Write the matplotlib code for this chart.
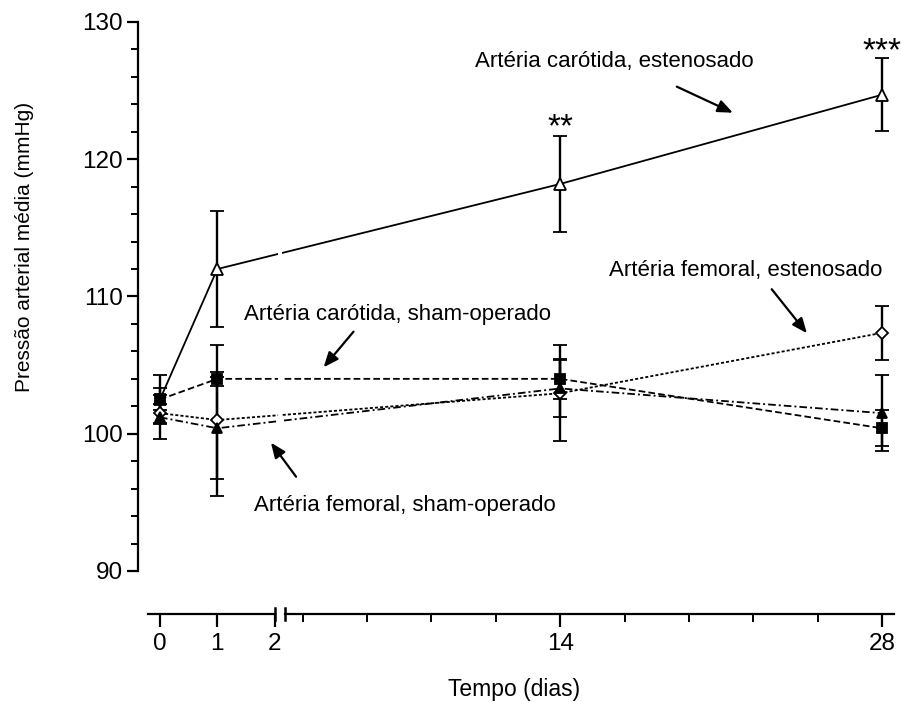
import matplotlib
matplotlib.use("Agg")
import matplotlib.pyplot as plt
import numpy as np
from matplotlib.ticker import FixedLocator, MultipleLocator

plt.rcParams['font.family'] = ['Liberation Sans', 'DejaVu Sans']
plt.rcParams['lines.scale_dashes'] = False

# tempo (dias)
dias = [0, 1, 14, 28]

# pressão arterial média (mmHg) +- erro
carotida_est = [102.5, 112.0, 118.2, 124.7]
carotida_est_ep = [1.8, 4.2, 3.5, 2.65]
carotida_sham = [102.5, 104.0, 104.0, 100.4]
carotida_sham_ep = [0.8, 0.5, 1.45, 1.3]
femoral_est = [101.5, 101.0, 102.95, 107.35]
femoral_est_ep = [0.7, 5.5, 3.5, 1.95]
femoral_sham = [101.2, 100.4, 103.3, 101.5]
femoral_sham_ep = [1.6, 3.7, 2.05, 2.75]

ticks_x = [0, 1, 2, 14, 28]
ticks_x_menores = [2.8, 5.6, 8.4, 11.2, 16.8, 19.6, 22.4, 25.2]
ticks_y = [90, 100, 110, 120, 130]

# eixo x com quebra depois do dia 2
A, B, GAP, W = 57.3, 23.0, 10.0, 0.01


def fwd(d):
    d = np.asarray(d, dtype=float)
    return np.where(d <= 2, A * d,
                    np.where(d <= 2 + W, 2 * A + (d - 2) * GAP / W,
                             2 * A + GAP + (d - 2 - W) * B))


def inv(u):
    u = np.asarray(u, dtype=float)
    return np.where(u <= 2 * A, u / A,
                    np.where(u <= 2 * A + GAP, 2 + (u - 2 * A) * W / GAP,
                             2 + W + (u - 2 * A - GAP) / B))


fig = plt.figure(figsize=(9.03, 7.02), dpi=100)
ax = fig.add_axes([138 / 903, 131 / 702, 756.5 / 903, 549 / 702])
ax.set_xscale('function', functions=(fwd, inv))

series = [
    (carotida_est, carotida_est_ep, '-', '^', 'white', 8),
    (carotida_sham, carotida_sham_ep, (0, (4.8, 2.3)), 's', 'black', 7),
    (femoral_est, femoral_est_ep, (0, (2.2, 1.5)), 'D', 'white', 6.5),
    (femoral_sham, femoral_sham_ep, (0, (5.5, 2.2, 1.4, 2.2)), '^', 'black', 7.5),
]
for y, e, ls, mk, fc, ms in series:
    ax.errorbar(dias, y, yerr=e, ls=ls, lw=1.3, color='black', marker=mk,
                ms=ms, mfc=fc, mec='black', mew=1.3, ecolor='black',
                elinewidth=1.7, capsize=4.7, capthick=1.7, zorder=3)

# interrupção das linhas na quebra do eixo
ax.axvspan(2.003, 2.007, color='white', lw=0, zorder=4)

# eixo x deslocado, desenhado em dois trechos
Y0 = -43 / 549
ax.spines[['top', 'right']].set_visible(False)
ax.spines['left'].set_linewidth(1.6)
ax.spines['bottom'].set_position(('axes', Y0))
ax.spines['bottom'].set_visible(False)
tr = ax.get_xaxis_transform()
ax.plot([-0.21, 2], [Y0, Y0], transform=tr, color='black', lw=1.6, clip_on=False)
ax.plot([2 + W, 28.54], [Y0, Y0], transform=tr, color='black', lw=1.6, clip_on=False)
for xb in (2, 2 + W):
    ax.plot([xb, xb], [Y0 - 0.011, Y0 + 0.011], transform=tr, color='black',
            lw=1.8, clip_on=False)

ax.xaxis.set_major_locator(FixedLocator(ticks_x))
ax.xaxis.set_minor_locator(FixedLocator(ticks_x_menores))
ax.set_xticks(ticks_x, labels=[str(t) for t in ticks_x])
ax.set_yticks(ticks_y, labels=[str(t) for t in ticks_y])
ax.yaxis.set_minor_locator(MultipleLocator(2))
ax.tick_params(axis='x', which='major', length=9, width=1.6, pad=5, labelsize=17.5)
ax.tick_params(axis='x', which='minor', length=6, width=1.4)
ax.tick_params(axis='y', which='major', length=8, width=1.6, pad=3, labelsize=17.5)
ax.tick_params(axis='y', which='minor', length=5, width=1.4)

ax.set_ylabel('Pressão arterial média (mmHg)', fontsize=15)
ax.yaxis.set_label_coords(-0.137, 0.59)
ax.set_xlabel('Tempo (dias)', fontsize=16.5)
ax.xaxis.set_label_coords(0.497, -0.215)
ax.xaxis.label.set_va('center')

seta = dict(arrowstyle='-|>,head_length=0.6,head_width=0.25', color='black',
            lw=1.6, mutation_scale=15, shrinkA=0, shrinkB=0)
rotulos = [
    ('Artéria carótida, estenosado', (16.36, 127.11), (19.07, 125.29), (21.51, 123.39)),
    ('Artéria femoral, estenosado', (22.07, 111.88), (23.20, 110.53), (24.73, 107.32)),
    ('Artéria carótida, sham-operado', (6.91, 108.72), (5.01, 107.44), (3.71, 104.84)),
    ('Artéria femoral, sham-operado', (7.23, 94.74), (2.51, 96.87), (1.937, 99.35)),
]
for txt, pos, cauda, ponta in rotulos:
    ax.text(*pos, txt, ha='center', va='center', fontsize=16, zorder=5)
    ax.annotate('', xy=ponta, xytext=cauda, arrowprops=seta, zorder=5)

ax.text(14, 121.7, '**', ha='center', va='baseline', fontsize=24)
ax.text(28, 127.2, '***', ha='center', va='baseline', fontsize=24, clip_on=False)

ax.set_xlim(-0.384, 28.54)
ax.set_ylim(90, 130)

fig.savefig('out.png', dpi=100)
